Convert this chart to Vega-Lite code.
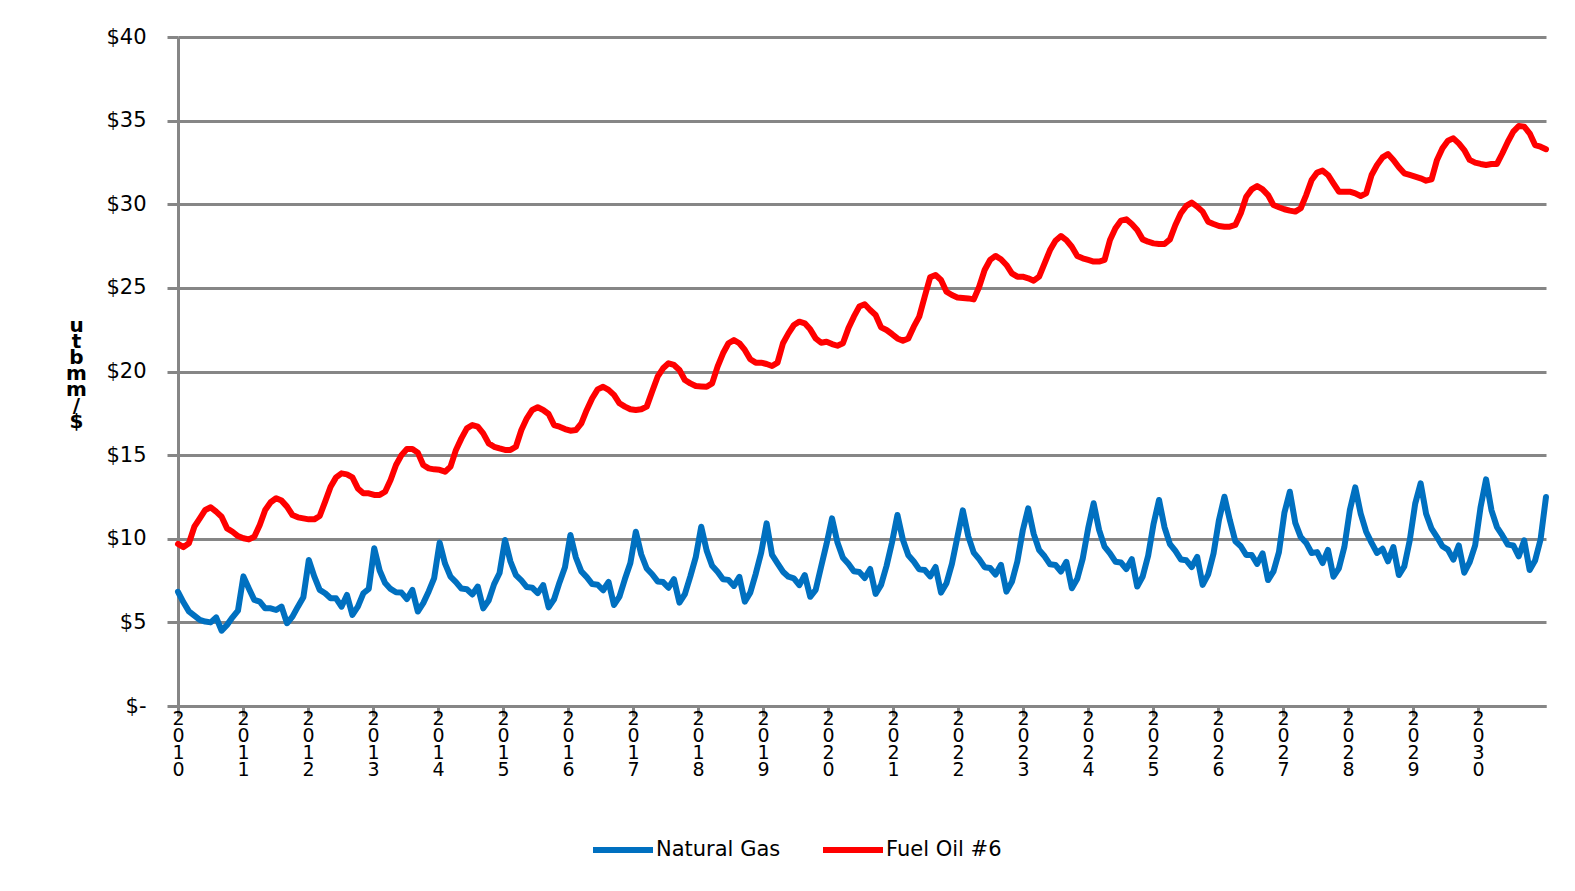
{
"$schema": "https://vega.github.io/schema/vega-lite/v6.json",
"width": 1368, "height": 669,
"autosize": {"type": "none"},
"padding": {"left": 178, "top": 37, "right": 29, "bottom": 185},
"background": "white",
"config": {"view": {"stroke": null}, "font": "DejaVu Sans"},
"data": {"values": [
{"m":0,"gas":6.83,"oil":9.69},{"m":1,"gas":6.2,"oil":9.5},{"m":2,"gas":5.66,"oil":9.73},{"m":3,"gas":5.4,"oil":10.72},{"m":4,"gas":5.15,"oil":11.22},{"m":5,"gas":5.05,"oil":11.72},{"m":6,"gas":5.0,"oil":11.88},{"m":7,"gas":5.3,"oil":11.62},{"m":8,"gas":4.5,"oil":11.32},{"m":9,"gas":4.85,"oil":10.62},{"m":10,"gas":5.3,"oil":10.42},{"m":11,"gas":5.7,"oil":10.16},
{"m":12,"gas":7.75,"oil":10.03},{"m":13,"gas":7.03,"oil":9.96},{"m":14,"gas":6.34,"oil":10.12},{"m":15,"gas":6.24,"oil":10.82},{"m":16,"gas":5.84,"oil":11.72},{"m":17,"gas":5.84,"oil":12.18},{"m":18,"gas":5.74,"oil":12.42},{"m":19,"gas":5.94,"oil":12.28},{"m":20,"gas":4.95,"oil":11.92},{"m":21,"gas":5.34,"oil":11.42},{"m":22,"gas":5.94,"oil":11.28},{"m":23,"gas":6.5,"oil":11.22},
{"m":24,"gas":8.73,"oil":11.16},{"m":25,"gas":7.75,"oil":11.16},{"m":26,"gas":6.94,"oil":11.36},{"m":27,"gas":6.74,"oil":12.22},{"m":28,"gas":6.44,"oil":13.11},{"m":29,"gas":6.44,"oil":13.67},{"m":30,"gas":5.94,"oil":13.91},{"m":31,"gas":6.64,"oil":13.85},{"m":32,"gas":5.45,"oil":13.67},{"m":33,"gas":5.94,"oil":13.01},{"m":34,"gas":6.74,"oil":12.72},{"m":35,"gas":7.0,"oil":12.72},
{"m":36,"gas":9.43,"oil":12.62},{"m":37,"gas":8.1,"oil":12.62},{"m":38,"gas":7.35,"oil":12.81},{"m":39,"gas":7.0,"oil":13.51},{"m":40,"gas":6.8,"oil":14.41},{"m":41,"gas":6.78,"oil":15.0},{"m":42,"gas":6.4,"oil":15.37},{"m":43,"gas":6.94,"oil":15.37},{"m":44,"gas":5.65,"oil":15.15},{"m":45,"gas":6.15,"oil":14.41},{"m":46,"gas":6.85,"oil":14.21},{"m":47,"gas":7.65,"oil":14.15},
{"m":48,"gas":9.77,"oil":14.12},{"m":49,"gas":8.51,"oil":14.01},{"m":50,"gas":7.73,"oil":14.31},{"m":51,"gas":7.41,"oil":15.31},{"m":52,"gas":7.02,"oil":16.0},{"m":53,"gas":6.98,"oil":16.6},{"m":54,"gas":6.67,"oil":16.8},{"m":55,"gas":7.14,"oil":16.7},{"m":56,"gas":5.84,"oil":16.3},{"m":57,"gas":6.31,"oil":15.7},{"m":58,"gas":7.29,"oil":15.5},{"m":59,"gas":7.95,"oil":15.4},
{"m":60,"gas":9.93,"oil":15.31},{"m":61,"gas":8.64,"oil":15.31},{"m":62,"gas":7.83,"oil":15.5},{"m":63,"gas":7.51,"oil":16.5},{"m":64,"gas":7.11,"oil":17.2},{"m":65,"gas":7.07,"oil":17.7},{"m":66,"gas":6.75,"oil":17.86},{"m":67,"gas":7.23,"oil":17.7},{"m":68,"gas":5.9,"oil":17.46},{"m":69,"gas":6.38,"oil":16.8},{"m":70,"gas":7.39,"oil":16.7},{"m":71,"gas":8.29,"oil":16.56},
{"m":72,"gas":10.22,"oil":16.46},{"m":73,"gas":8.88,"oil":16.5},{"m":74,"gas":8.05,"oil":16.9},{"m":75,"gas":7.71,"oil":17.7},{"m":76,"gas":7.29,"oil":18.4},{"m":77,"gas":7.25,"oil":18.93},{"m":78,"gas":6.92,"oil":19.09},{"m":79,"gas":7.42,"oil":18.9},{"m":80,"gas":6.04,"oil":18.6},{"m":81,"gas":6.54,"oil":18.1},{"m":82,"gas":7.59,"oil":17.9},{"m":83,"gas":8.55,"oil":17.74},
{"m":84,"gas":10.42,"oil":17.7},{"m":85,"gas":9.06,"oil":17.74},{"m":86,"gas":8.22,"oil":17.9},{"m":87,"gas":7.88,"oil":18.8},{"m":88,"gas":7.45,"oil":19.69},{"m":89,"gas":7.41,"oil":20.19},{"m":90,"gas":7.07,"oil":20.49},{"m":91,"gas":7.58,"oil":20.39},{"m":92,"gas":6.18,"oil":20.09},{"m":93,"gas":6.69,"oil":19.49},{"m":94,"gas":7.75,"oil":19.29},{"m":95,"gas":8.9,"oil":19.13},
{"m":96,"gas":10.72,"oil":19.11},{"m":97,"gas":9.29,"oil":19.09},{"m":98,"gas":8.39,"oil":19.29},{"m":99,"gas":8.03,"oil":20.29},{"m":100,"gas":7.58,"oil":21.09},{"m":101,"gas":7.54,"oil":21.69},{"m":102,"gas":7.18,"oil":21.88},{"m":103,"gas":7.72,"oil":21.69},{"m":104,"gas":6.24,"oil":21.29},{"m":105,"gas":6.78,"oil":20.73},{"m":106,"gas":7.9,"oil":20.53},{"m":107,"gas":9.16,"oil":20.53},
{"m":108,"gas":10.92,"oil":20.45},{"m":109,"gas":9.03,"oil":20.33},{"m":110,"gas":8.53,"oil":20.53},{"m":111,"gas":8.03,"oil":21.69},{"m":112,"gas":7.73,"oil":22.28},{"m":113,"gas":7.63,"oil":22.78},{"m":114,"gas":7.23,"oil":22.98},{"m":115,"gas":7.83,"oil":22.88},{"m":116,"gas":6.53,"oil":22.52},{"m":117,"gas":6.94,"oil":21.98},{"m":118,"gas":8.33,"oil":21.72},{"m":119,"gas":9.7,"oil":21.78},
{"m":120,"gas":11.22,"oil":21.64},{"m":121,"gas":9.77,"oil":21.54},{"m":122,"gas":8.87,"oil":21.69},{"m":123,"gas":8.51,"oil":22.58},{"m":124,"gas":8.06,"oil":23.28},{"m":125,"gas":8.01,"oil":23.88},{"m":126,"gas":7.65,"oil":24.02},{"m":127,"gas":8.19,"oil":23.68},{"m":128,"gas":6.7,"oil":23.38},{"m":129,"gas":7.24,"oil":22.64},{"m":130,"gas":8.37,"oil":22.48},{"m":131,"gas":9.77,"oil":22.24},
{"m":132,"gas":11.42,"oil":21.98},{"m":133,"gas":9.94,"oil":21.84},{"m":134,"gas":9.01,"oil":21.98},{"m":135,"gas":8.64,"oil":22.68},{"m":136,"gas":8.17,"oil":23.28},{"m":137,"gas":8.13,"oil":24.47},{"m":138,"gas":7.75,"oil":25.63},{"m":139,"gas":8.31,"oil":25.77},{"m":140,"gas":6.78,"oil":25.47},{"m":141,"gas":7.34,"oil":24.77},{"m":142,"gas":8.5,"oil":24.57},{"m":143,"gas":10.1,"oil":24.43},
{"m":144,"gas":11.7,"oil":24.4},{"m":145,"gas":10.14,"oil":24.37},{"m":146,"gas":9.17,"oil":24.31},{"m":147,"gas":8.78,"oil":25.07},{"m":148,"gas":8.3,"oil":26.07},{"m":149,"gas":8.25,"oil":26.67},{"m":150,"gas":7.86,"oil":26.91},{"m":151,"gas":8.44,"oil":26.71},{"m":152,"gas":6.84,"oil":26.37},{"m":153,"gas":7.42,"oil":25.87},{"m":154,"gas":8.64,"oil":25.67},{"m":155,"gas":10.5,"oil":25.67},
{"m":156,"gas":11.82,"oil":25.57},{"m":157,"gas":10.29,"oil":25.43},{"m":158,"gas":9.33,"oil":25.67},{"m":159,"gas":8.95,"oil":26.47},{"m":160,"gas":8.47,"oil":27.26},{"m":161,"gas":8.43,"oil":27.82},{"m":162,"gas":8.04,"oil":28.1},{"m":163,"gas":8.62,"oil":27.86},{"m":164,"gas":7.04,"oil":27.46},{"m":165,"gas":7.61,"oil":26.91},{"m":166,"gas":8.81,"oil":26.77},{"m":167,"gas":10.63,"oil":26.67},
{"m":168,"gas":12.12,"oil":26.57},{"m":169,"gas":10.53,"oil":26.57},{"m":170,"gas":9.53,"oil":26.67},{"m":171,"gas":9.13,"oil":27.86},{"m":172,"gas":8.63,"oil":28.56},{"m":173,"gas":8.58,"oil":29.02},{"m":174,"gas":8.19,"oil":29.1},{"m":175,"gas":8.78,"oil":28.82},{"m":176,"gas":7.14,"oil":28.46},{"m":177,"gas":7.74,"oil":27.9},{"m":178,"gas":8.98,"oil":27.76},{"m":179,"gas":10.89,"oil":27.66},
{"m":180,"gas":12.32,"oil":27.62},{"m":181,"gas":10.69,"oil":27.62},{"m":182,"gas":9.68,"oil":27.9},{"m":183,"gas":9.27,"oil":28.76},{"m":184,"gas":8.76,"oil":29.46},{"m":185,"gas":8.71,"oil":29.9},{"m":186,"gas":8.31,"oil":30.1},{"m":187,"gas":8.92,"oil":29.86},{"m":188,"gas":7.24,"oil":29.56},{"m":189,"gas":7.85,"oil":28.96},{"m":190,"gas":9.12,"oil":28.82},{"m":191,"gas":11.13,"oil":28.7},
{"m":192,"gas":12.51,"oil":28.66},{"m":193,"gas":11.1,"oil":28.66},{"m":194,"gas":9.85,"oil":28.76},{"m":195,"gas":9.55,"oil":29.46},{"m":196,"gas":9.03,"oil":30.45},{"m":197,"gas":9.03,"oil":30.89},{"m":198,"gas":8.5,"oil":31.09},{"m":199,"gas":9.12,"oil":30.89},{"m":200,"gas":7.53,"oil":30.55},{"m":201,"gas":8.05,"oil":29.95},{"m":202,"gas":9.2,"oil":29.82},{"m":203,"gas":11.55,"oil":29.7},
{"m":204,"gas":12.81,"oil":29.62},{"m":205,"gas":10.95,"oil":29.56},{"m":206,"gas":10.1,"oil":29.76},{"m":207,"gas":9.75,"oil":30.55},{"m":208,"gas":9.15,"oil":31.45},{"m":209,"gas":9.2,"oil":31.89},{"m":210,"gas":8.55,"oil":32.01},{"m":211,"gas":9.33,"oil":31.75},{"m":212,"gas":7.73,"oil":31.25},{"m":213,"gas":8.23,"oil":30.75},{"m":214,"gas":9.5,"oil":30.75},{"m":215,"gas":11.7,"oil":30.75},
{"m":216,"gas":13.07,"oil":30.65},{"m":217,"gas":11.5,"oil":30.49},{"m":218,"gas":10.42,"oil":30.65},{"m":219,"gas":9.75,"oil":31.75},{"m":220,"gas":9.15,"oil":32.35},{"m":221,"gas":9.4,"oil":32.8},{"m":222,"gas":8.65,"oil":33.0},{"m":223,"gas":9.5,"oil":32.65},{"m":224,"gas":7.83,"oil":32.21},{"m":225,"gas":8.35,"oil":31.85},{"m":226,"gas":9.9,"oil":31.75},{"m":227,"gas":12.1,"oil":31.65},
{"m":228,"gas":13.31,"oil":31.55},{"m":229,"gas":11.5,"oil":31.41},{"m":230,"gas":10.6,"oil":31.49},{"m":231,"gas":10.1,"oil":32.65},{"m":232,"gas":9.55,"oil":33.35},{"m":233,"gas":9.35,"oil":33.8},{"m":234,"gas":8.75,"oil":33.94},{"m":235,"gas":9.6,"oil":33.64},{"m":236,"gas":7.97,"oil":33.24},{"m":237,"gas":8.6,"oil":32.65},{"m":238,"gas":9.6,"oil":32.49},{"m":239,"gas":11.9,"oil":32.41},
{"m":240,"gas":13.55,"oil":32.35},{"m":241,"gas":11.7,"oil":32.41},{"m":242,"gas":10.7,"oil":32.41},{"m":243,"gas":10.2,"oil":33.05},{"m":244,"gas":9.65,"oil":33.74},{"m":245,"gas":9.6,"oil":34.34},{"m":246,"gas":8.95,"oil":34.68},{"m":247,"gas":9.9,"oil":34.64},{"m":248,"gas":8.13,"oil":34.24},{"m":249,"gas":8.7,"oil":33.54},{"m":250,"gas":9.95,"oil":33.44},{"m":251,"gas":12.5,"oil":33.29}
]},
"transform": [{"fold": ["gas", "oil"], "as": ["series", "price"]}],
"mark": {"type": "line", "strokeWidth": 6, "strokeJoin": "round", "strokeCap": "round"},
"encoding": {
  "x": {"field": "m", "type": "quantitative",
    "scale": {"domain": [0, 251], "nice": false, "zero": false},
    "axis": {"values": [0, 11.927, 23.854, 35.781, 47.708, 59.635, 71.562, 83.489, 95.416, 107.343, 119.27, 131.197, 143.124, 155.051, 166.978, 178.905, 190.832, 202.759, 214.686, 226.613, 238.54],
      "title": null, "grid": false,
      "domainColor": "#868686", "domainWidth": 3,
      "tickColor": "#868686", "tickWidth": 3, "tickSize": 10,
      "labelExpr": "split(toString(2010 + round(datum.value / 11.927)), '')",
      "labelFont": "DejaVu Sans", "labelFontSize": 19, "labelLineHeight": 17,
      "labelBaseline": "top", "labelAlign": "center", "labelPadding": -7, "labelColor": "black",
      "labelAngle": 0, "labelOverlap": false, "labelFlush": false, "labelBound": false}},
  "y": {"field": "price", "type": "quantitative",
    "scale": {"domain": [0, 40], "nice": false},
    "axis": {"values": [0, 5, 10, 15, 20, 25, 30, 35, 40],
      "labelExpr": "datum.value == 0 ? '$-\u00a0\u00a0\u00a0' : '$' + datum.value",
      "labelFont": "DejaVu Sans", "labelFontSize": 21, "labelColor": "black", "labelPadding": 21,
      "tickSize": 11, "tickColor": "#868686", "tickWidth": 3,
      "domainColor": "#868686", "domainWidth": 3,
      "grid": true, "gridColor": "#868686", "gridWidth": 3,
      "title": ["u", "t", "b", "m", "m", "/", "$"],
      "titleAngle": 0, "titleX": -102, "titleY": 288, "titleAlign": "center", "titleBaseline": "middle",
      "titleFont": "DejaVu Sans", "titleFontSize": 20, "titleFontWeight": "bold", "titleLineHeight": 16, "titleColor": "black"}},
  "color": {"field": "series", "type": "nominal",
    "scale": {"domain": ["gas", "oil"], "range": ["#0070C0", "#FF0000"]},
    "legend": {"orient": "none", "legendX": 412, "legendY": 780, "direction": "horizontal", "title": null,
      "symbolType": "stroke", "symbolSize": 3600, "symbolStrokeWidth": 6,
      "labelFont": "DejaVu Sans", "labelFontSize": 21, "labelColor": "black", "labelOffset": 0,
      "columnPadding": 30, "padding": 0,
      "labelExpr": "datum.label == 'gas' ? 'Natural Gas' : 'Fuel Oil #6'"}}
}
}
